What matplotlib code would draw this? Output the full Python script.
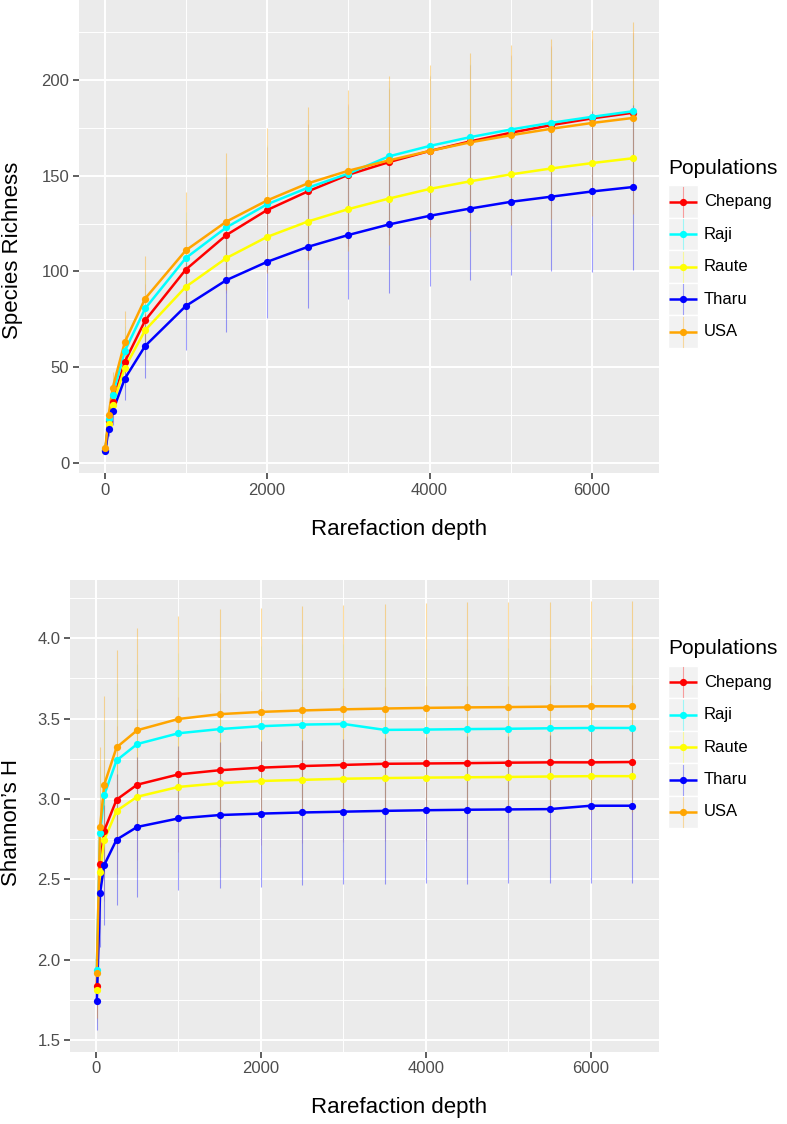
import matplotlib
matplotlib.use('Agg')
import matplotlib.pyplot as plt
from matplotlib.patches import Rectangle

plt.rcParams['font.family'] = ['Liberation Sans', 'DejaVu Sans']

# ---------------- data ----------------
populations = ['Chepang', 'Raji', 'Raute', 'Tharu', 'USA']
pop_colors = ['#FF0000', '#00FFFF', '#FFFF00', '#0000FF', '#FFA500']
bar_alpha = [0.10, 0.10, 0.10, 0.38, 0.38]
depth = [10, 50, 100, 250, 500, 1000, 1500, 2000, 2500, 3000, 3500,
         4000, 4500, 5000, 5500, 6000, 6500]

# Species richness (mean)
rich_chepang = [7.0, 22, 32, 53, 74.5, 101, 119, 132, 141.7, 150.4, 157, 162.8, 167.8, 172.3, 176.3, 179.8, 182.7]
rich_raji    = [7.0, 23.3, 35.8, 58.6, 80.7, 107, 123, 135, 143.6, 151, 160, 165.4, 170, 174, 177.5, 180.6, 183.5]
rich_raute   = [7.0, 20.7, 30.3, 49.9, 69.4, 92, 107, 118, 126, 132.5, 138, 143, 147, 150.6, 153.7, 156.5, 159]
rich_tharu   = [6.4, 18.1, 27.1, 44.2, 61.2, 82, 95.5, 105, 112.8, 119, 124.5, 129, 132.8, 136.3, 139, 141.7, 144]
rich_usa     = [7.8, 25, 39.3, 63.3, 85.9, 111, 126, 137, 145.9, 152.5, 157.9, 162.8, 167.3, 171, 174.4, 177.4, 180]

# Species richness (sd)
rich_sd_chepang = [0.8, 5, 8, 13, 19, 26, 30, 33, 35, 37, 38, 39, 40, 40.5, 41, 41.5, 42]
rich_sd_raji    = [0.8, 5, 8, 13, 18, 24, 28, 31, 33, 35, 36, 37, 38, 38.5, 39, 39.5, 40]
rich_sd_raute   = [0.7, 4, 7, 11, 16, 22, 26, 28, 30, 31, 32.5, 33.5, 34.5, 35, 35.5, 36, 36.5]
rich_sd_tharu   = [0.4, 4, 7, 11, 16.5, 23, 27, 29, 32, 33.5, 35.5, 36.5, 37.3, 38.3, 39, 42, 43]
rich_sd_usa     = [1.0, 6, 8.5, 16, 22, 30.5, 35.5, 38, 40, 42, 44, 45, 46.4, 47, 47, 48.6, 50]

# Shannon's H (mean)
shan_chepang = [1.833, 2.593, 2.803, 2.996, 3.089, 3.153, 3.179, 3.195, 3.205, 3.212, 3.219, 3.221, 3.223, 3.226, 3.228, 3.228, 3.230]
shan_raji    = [1.938, 2.787, 3.024, 3.240, 3.342, 3.409, 3.435, 3.453, 3.463, 3.467, 3.430, 3.432, 3.435, 3.437, 3.440, 3.442, 3.442]
shan_raute   = [1.808, 2.547, 2.745, 2.926, 3.014, 3.075, 3.098, 3.112, 3.119, 3.126, 3.130, 3.133, 3.135, 3.137, 3.140, 3.142, 3.142]
shan_tharu   = [1.740, 2.414, 2.589, 2.747, 2.826, 2.879, 2.900, 2.909, 2.916, 2.921, 2.926, 2.930, 2.933, 2.935, 2.937, 2.958, 2.958]
shan_usa     = [1.919, 2.826, 3.089, 3.321, 3.428, 3.498, 3.528, 3.542, 3.551, 3.558, 3.563, 3.567, 3.570, 3.572, 3.575, 3.577, 3.577]

# Shannon's H (sd)
shan_sd_chepang = [0.20, 0.40, 0.44, 0.46, 0.47, 0.48, 0.48, 0.48, 0.48, 0.48, 0.48, 0.48, 0.48, 0.48, 0.48, 0.48, 0.48]
shan_sd_raji    = [0.22, 0.42, 0.46, 0.48, 0.50, 0.50, 0.50, 0.50, 0.50, 0.50, 0.50, 0.50, 0.50, 0.50, 0.50, 0.50, 0.50]
shan_sd_raute   = [0.20, 0.38, 0.42, 0.44, 0.45, 0.45, 0.45, 0.45, 0.45, 0.45, 0.45, 0.45, 0.45, 0.45, 0.45, 0.45, 0.45]
shan_sd_tharu   = [0.18, 0.334, 0.374, 0.408, 0.435, 0.448, 0.453, 0.455, 0.45, 0.45, 0.455, 0.455, 0.46, 0.46, 0.46, 0.48, 0.48]
shan_sd_usa     = [0.28, 0.50, 0.555, 0.607, 0.635, 0.642, 0.652, 0.648, 0.649, 0.648, 0.653, 0.653, 0.655, 0.655, 0.652, 0.653, 0.655]

richness = [rich_chepang, rich_raji, rich_raute, rich_tharu, rich_usa]
richness_sd = [rich_sd_chepang, rich_sd_raji, rich_sd_raute, rich_sd_tharu, rich_sd_usa]
shannon = [shan_chepang, shan_raji, shan_raute, shan_tharu, shan_usa]
shannon_sd = [shan_sd_chepang, shan_sd_raji, shan_sd_raute, shan_sd_tharu, shan_sd_usa]

x_ticks = [0, 2000, 4000, 6000]
x_minor = [1000, 3000, 5000]
rich_ticks = [0, 50, 100, 150, 200]
rich_minor = [25, 75, 125, 175, 225]
shan_ticks = [1.5, 2.0, 2.5, 3.0, 3.5, 4.0]
shan_minor = [1.75, 2.25, 2.75, 3.25, 3.75, 4.25]

# ---------------- figure ----------------
W, H = 787, 1124
fig = plt.figure(figsize=(W / 100, H / 100), dpi=100)


def px_axes(x0, y0, x1, y1):
    return fig.add_axes([x0 / W, 1 - y1 / H, (x1 - x0) / W, (y1 - y0) / H])


def style(ax, yt, ym, fmt):
    ax.set_facecolor('#EBEBEB')
    for s in ax.spines.values():
        s.set_visible(False)
    ax.set_xticks(x_ticks)
    ax.set_xticklabels([str(t) for t in x_ticks])
    ax.set_xticks(x_minor, minor=True)
    ax.set_yticks(yt)
    ax.set_yticklabels([fmt.format(t) for t in yt])
    ax.set_yticks(ym, minor=True)
    ax.grid(which='major', color='white', lw=1.4)
    ax.grid(which='minor', color='white', lw=0.7)
    ax.set_axisbelow(True)
    ax.tick_params(which='major', length=4, width=1.1, color='#333333',
                   labelcolor='#4D4D4D', labelsize=12, pad=3)
    ax.tick_params(which='minor', length=0)
    ax.set_xlim(-314.5, 6824.5)


def draw(ax, means, sds):
    for m, s, c, a in zip(means, sds, pop_colors, bar_alpha):
        lo = [p - q for p, q in zip(m, s)]
        hi = [p + q for p, q in zip(m, s)]
        ax.vlines(depth, lo, hi, color=c, alpha=a, lw=0.8, zorder=2)
    for i, (m, c) in enumerate(zip(means, pop_colors)):
        ax.plot(depth, m, color=c, lw=1.8, zorder=3 + i * 0.01,
                solid_capstyle='butt')
    for i, (m, c) in enumerate(zip(means, pop_colors)):
        ax.plot(depth, m, 'o', color=c, ms=5.2, mew=0, zorder=4 + i * 0.01)


ax1 = px_axes(79, 0, 659, 473.3)
style(ax1, rich_ticks, rich_minor, '{:d}')
ax1.set_ylim(-5.2, 241.5)
draw(ax1, richness, richness_sd)

ax2 = px_axes(70, 580, 659, 1051.7)
style(ax2, shan_ticks, shan_minor, '{:.1f}')
ax2.set_ylim(1.427, 4.363)
draw(ax2, shannon, shannon_sd)

# axis titles
fig.text(399 / W, 1 - 530 / H, 'Rarefaction depth', ha='center', va='center', fontsize=16)
fig.text(399 / W, 1 - 1108 / H, 'Rarefaction depth', ha='center', va='center', fontsize=16)
fig.text(13 / W, 1 - 250 / H, 'Species Richness', ha='center', va='center', rotation=90, fontsize=16)
fig.text(12 / W, 1 - 822 / H, 'Shannon\u2019s H', ha='center', va='center', rotation=90, fontsize=16)

# legends (layout in pixel space)
ov = fig.add_axes([0, 0, 1, 1])
ov.set_xlim(0, W)
ov.set_ylim(H, 0)
ov.axis('off')
ov.patch.set_visible(False)


def legend(title_y, first_y, step=32.5):
    ov.text(668, title_y, 'Populations', ha='left', va='center', fontsize=15)
    for k, (name, c) in enumerate(zip(populations, pop_colors)):
        yc = first_y + k * step
        ov.add_patch(Rectangle((668, yc - step / 2), 30, step, facecolor='#F2F2F2',
                               edgecolor='white', lw=1.0))
        ov.plot([683, 683], [yc - 15, yc + 15], color=c, alpha=0.35, lw=0.8)
        ov.plot([669, 697], [yc, yc], color=c, lw=1.8, solid_capstyle='butt')
        ov.plot([683], [yc], 'o', color=c, ms=5.2, mew=0)
        ov.text(704, yc, name, ha='left', va='center', fontsize=12)


legend(168, 201.7)
legend(648, 682)

fig.savefig('out.png', dpi=100)
